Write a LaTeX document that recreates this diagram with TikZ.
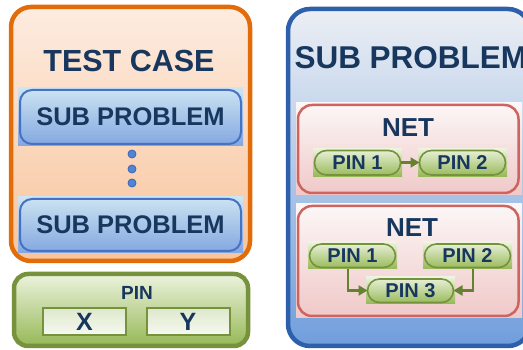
\documentclass[tikz,border=0pt]{standalone}
\usepackage{fontspec}
\setmainfont{Liberation Sans}
\usetikzlibrary{arrows.meta}
\definecolor{navy}{RGB}{23,55,94}
\definecolor{tcBorder}{RGB}{227,108,10}
\definecolor{tcTop}{RGB}{253,236,224}
\definecolor{tcMid}{RGB}{250,210,178}
\definecolor{tcBot}{RGB}{248,196,156}
\definecolor{spBorder}{RGB}{70,114,196}
\definecolor{spTop}{RGB}{205,228,242}
\definecolor{spBot}{RGB}{130,166,224}
\definecolor{dotFill}{RGB}{82,132,212}
\definecolor{dotLine}{RGB}{58,100,180}
\definecolor{rbBorder}{RGB}{46,95,170}
\definecolor{rbTop}{RGB}{236,239,244}
\definecolor{rbBot}{RGB}{112,158,220}
\definecolor{netBorder}{RGB}{205,100,95}
\definecolor{netTop}{RGB}{252,247,247}
\definecolor{netBot}{RGB}{240,200,200}
\definecolor{pinBorder}{RGB}{118,146,60}
\definecolor{pinTop}{RGB}{236,243,222}
\definecolor{pinBot}{RGB}{150,184,86}
\definecolor{xyTop}{RGB}{222,232,204}
\definecolor{xyBot}{RGB}{246,249,240}
\definecolor{arrowGreen}{RGB}{100,130,48}
\begin{document}
\begin{tikzpicture}[x=1pt,y=-1pt,
  every node/.style={inner sep=0pt, outer sep=0pt, text=navy},
  bigtc/.style={draw=tcBorder, line width=4.5pt, rounded corners=20pt,
    top color=tcTop, middle color=tcMid, bottom color=tcBot},
  bigrb/.style={draw=rbBorder, line width=4.5pt, rounded corners=22pt,
    top color=rbTop, bottom color=rbBot},
  bigpin/.style={draw=pinBorder, line width=4.5pt, rounded corners=14pt,
    top color=pinTop, bottom color=pinBot},
  spbg/.style={top color=spTop, bottom color=spBot,
    font=\fontsize{25.5}{30}\selectfont\bfseries},
  sprim/.style={draw=spBorder, line width=2pt, rounded corners=12pt},
  netbg/.style={top color=netTop, bottom color=netBot},
  netrim/.style={draw=netBorder, line width=2.5pt, rounded corners=14pt},
  pinbg/.style={top color=pinTop, bottom color=pinBot,
    minimum width=89pt, minimum height=28pt,
    font=\fontsize{20}{24}\selectfont\bfseries},
  pinrim/.style={draw=pinBorder, line width=1.6pt, rounded corners=12pt},
  xybox/.style={draw=pinBorder, line width=2pt, top color=xyTop, bottom color=xyBot,
    minimum width=83pt, minimum height=27pt,
    font=\fontsize{25}{30}\selectfont\bfseries},
  dotstyle/.style={circle, fill=dotFill, draw=dotLine, line width=0.8pt, minimum size=8pt},
  greenarrow/.style={draw=arrowGreen, line width=2.6pt,
    -{Triangle[length=9pt,width=10pt]}},
  titlefont/.style={font=\fontsize{30.5}{36}\selectfont\bfseries},
  netfont/.style={font=\fontsize{26}{30}\selectfont\bfseries},
  pinfont/.style={font=\fontsize{19}{22}\selectfont\bfseries}
]
\useasboundingbox (0,0) rectangle (523,350);
\clip (0,0) rectangle (523,350);

% left: test case
\node[bigtc, minimum width=239pt, minimum height=254pt] (tc) at (130.5,134) {};
\node[titlefont] (tctitle) at (129,61) {TEST CASE};
\node[spbg, minimum width=225pt, minimum height=58pt] (sp1) at (130.5,117) {SUB PROBLEM};
\node[spbg, minimum width=225pt, minimum height=56pt] (sp2) at (130.5,225) {SUB PROBLEM};
\foreach \n in {sp1,sp2}
  \draw[sprim] ([shift={(2pt,-2pt)}]\n.north west) rectangle ([shift={(-2pt,2pt)}]\n.south east);
\node[dotstyle] (d1) at (132,154) {};
\node[dotstyle] (d2) at (132,169) {};
\node[dotstyle] (d3) at (132,183) {};

% left bottom: pin
\node[bigpin, minimum width=234pt, minimum height=72pt] (pinbox) at (131,310) {};
\node[pinfont] (pintitle) at (137,293) {PIN};
\node[xybox] (xb) at (84.5,321.5) {X};
\node[xybox] (yb) at (188,321.5) {Y};

% right: sub problem
\node[bigrb, minimum width=242pt, minimum height=337pt] (rb) at (409,177.5) {};
\node[titlefont, font=\fontsize{31.5}{36}\selectfont\bfseries, anchor=west] (rbtitle) at (294.5,58) {SUB PROBLEM};

\node[netbg, minimum width=226pt, minimum height=92pt] (net1) at (409,149) {};
\node[netbg, minimum width=226pt, minimum height=114pt] (net2) at (409,261) {};
\foreach \n in {net1,net2}
  \draw[netrim] ([shift={(2pt,-2pt)}]\n.north west) rectangle ([shift={(-3.5pt,2pt)}]\n.south east);
\node[netfont] (net1t) at (408,128) {NET};
\node[netfont] (net2t) at (412,228) {NET};

\node[pinbg] (p1a) at (357.5,162.5) {PIN 1};
\node[pinbg] (p2a) at (462.5,162.5) {PIN 2};
\node[pinbg, minimum height=27pt] (p1b) at (352.5,255.5) {PIN 1};
\node[pinbg, minimum height=27pt] (p2b) at (467.5,255.5) {PIN 2};
\node[pinbg, minimum height=27pt] (p3) at (410.5,290.5) {PIN 3};
\foreach \n in {p1a,p2a,p1b,p2b,p3}
  \draw[pinrim] ([shift={(1.5pt,-2pt)}]\n.north west) rectangle ([shift={(-1.5pt,1.5pt)}]\n.south east);

\draw[greenarrow] ([xshift=-1.5pt]p1a.east) -- ([xshift=1.5pt]p2a.west);
\draw[greenarrow] ([xshift=-4.5pt]p1b.south) |- ([xshift=1.5pt]p3.west);
\draw[greenarrow] ([xshift=5.5pt]p2b.south) |- ([xshift=-1.5pt]p3.east);
\end{tikzpicture}
\end{document}
